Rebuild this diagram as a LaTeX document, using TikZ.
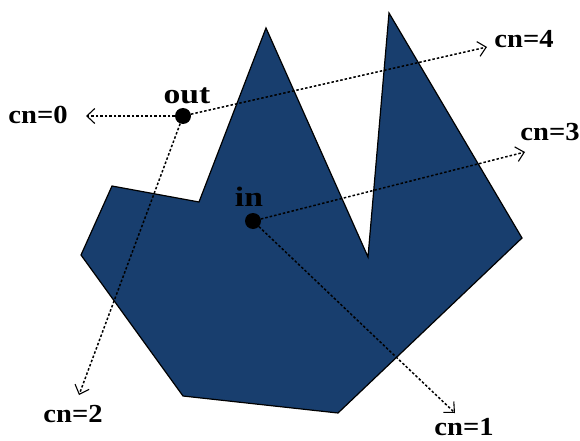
\documentclass[tikz,border=0pt]{standalone}
\usepackage{fontspec}
\setmainfont{Liberation Serif}
\usetikzlibrary{arrows.meta}
\definecolor{polyblue}{RGB}{24,62,110}
\tikzset{
  ray/.style={line width=1.5pt, dash pattern=on 2.5pt off 2pt, -{Straight Barb[length=8pt,width=15pt,line width=1.1pt]}},
  lab/.style={font=\fontsize{26}{26}\selectfont\bfseries, inner sep=0pt, anchor=base, xscale=1.1},
  ptlab/.style={font=\fontsize{28}{28}\selectfont\bfseries, inner sep=0pt, anchor=base, xscale=1.2},
  dot/.style={circle, fill=black, minimum size=16pt, inner sep=0pt}
}
\begin{document}
\begin{tikzpicture}[x=1pt,y=-1pt]
\useasboundingbox (0,0) rectangle (580,441);
\fill[white] (0,0) rectangle (580,441);
\filldraw[fill=polyblue, draw=black, line width=1.2pt]
  (112,186) -- (199,202) -- (266,28) -- (368,257) -- (389,13) -- (522,238)
  -- (338,413) -- (183,396) -- (81,255) -- cycle;
\node[dot] (out) at (183,116) {};
\node[dot] (in) at (253,221) {};
\node[ptlab] (outl) at (187,103) {out};
\node[ptlab] (inl) at (249,206) {in};
\coordinate (t0) at (86,116);
\coordinate (t4) at (487,47);
\coordinate (t2) at (79,395);
\coordinate (t3) at (525,152);
\coordinate (t1) at (455,413);
\draw[ray] (out) -- (t0);
\draw[ray] (out) -- (t4);
\draw[ray] (out) -- (t2);
\draw[ray] (in) -- (t3);
\draw[ray] (in) -- (t1);
\node[lab] (c0) at (38,124) {cn=0};
\node[lab] (c4) at (524,48) {cn=4};
\node[lab] (c3) at (550,140) {cn=3};
\node[lab] (c2) at (73,422) {cn=2};
\node[lab] (c1) at (464,435) {cn=1};
\end{tikzpicture}
\end{document}
